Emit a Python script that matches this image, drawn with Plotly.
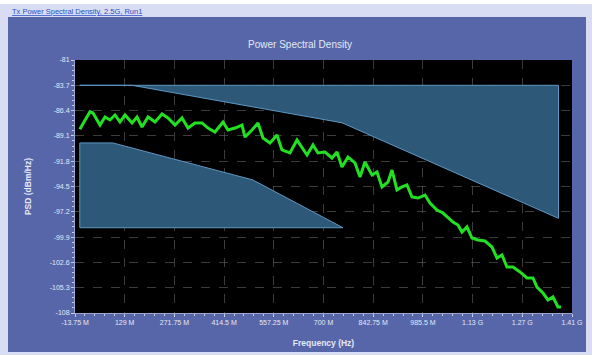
import plotly.graph_objects as go

# ---------------- data ----------------
freq_mhz = [0, 29.3, 37.9, 58, 72.4, 86.8, 101.1, 115.5, 129.9, 150, 164.3, 178.7, 195.9, 216,
            236.1, 253.3, 273.5, 293.6, 310.8, 330.9, 351, 368.2, 388.3, 411.3, 425.7, 445.8,
            465.9, 474.5, 494.6, 511.8, 526.2, 546.3, 566.4, 580.7, 603.7, 623.8,
            652.6, 669.8, 684.1, 704.3, 724.3, 738.7, 753.1, 770.3, 790.4, 804.8, 819.1,
            839.2, 853.6, 867.9, 885.2, 896.7, 911, 925.4, 939.7, 954.1, 971.3, 991.5,
            1005.8, 1025.9, 1043.2, 1057.5, 1071.9, 1086.2, 1097.7, 1112.1, 1126.4, 1143.7,
            1163.8, 1183.9, 1198.2, 1212.6, 1226.9, 1244.2, 1264.3, 1284.4, 1301.6, 1313.1,
            1330.3, 1344.7, 1359, 1373.4, 1382]
psd_dbm_hz = [-88.40, -86.52, -86.66, -87.94, -87.08, -87.40, -86.87, -87.62, -86.87, -87.72,
              -87.08, -88.15, -87.08, -87.62, -86.76, -87.19, -87.94, -87.19, -88.26, -87.72,
              -87.72, -88.26, -88.68, -87.62, -88.47, -88.26, -87.94, -89.22, -88.47, -87.72,
              -89.32, -89.86, -89.00, -90.60, -90.92, -89.54,
              -91.14, -90.07, -90.92, -90.82, -91.46, -90.82, -92.42, -91.35, -91.99, -93.49,
              -91.89, -93.27, -92.95, -94.55, -94.02, -92.74, -94.87, -94.55, -94.34, -95.62,
              -95.73, -95.41, -96.26, -97.01, -97.33, -97.76, -98.29, -98.61, -99.36, -98.82,
              -100.00, -100.21, -100.32, -100.96, -102.13, -101.81, -103.09, -103.09, -103.62,
              -104.26, -104.26, -105.23, -105.87, -106.61, -106.29, -107.36, -107.36]

upper_mask_x = [0, 1375, 1375, 753, 150, 0]
upper_mask_y = [-83.7, -83.7, -97.9, -87.7, -83.7, -83.7]
lower_mask_x = [0, 95, 497, 756, 0, 0]
lower_mask_y = [-89.85, -89.85, -93.8, -98.9, -98.9, -89.85]

x_tickvals = [-13.75, 129, 271.75, 414.5, 557.25, 700, 842.75, 985.5, 1128.25, 1271, 1413.75]
x_ticktext = ["-13.75 M", "129 M", "271.75 M", "414.5 M", "557.25 M", "700 M", "842.75 M",
              "985.5 M", "1.13 G", "1.27 G", "1.41 G"]
y_tickvals = [-81, -83.7, -86.4, -89.1, -91.8, -94.5, -97.2, -99.9, -102.6, -105.3, -108]
y_ticktext = ["-81", "-83.7", "-86.4", "-89.1", "-91.8", "-94.5", "-97.2", "-99.9",
              "-102.6", "-105.3", "-108"]

# ---------------- layout geometry ----------------
W, H = 600, 363
L, R, T, B = 75, 28, 60, 50
PW, PH = W - L - R, H - T - B


def px(x):
    return (x - L) / PW


def py(y):
    return (H - B - y) / PH


BLUE = "#5766a9"
LAV = "#d8ddf3"
MASK_FILL = "#2d5877"
MASK_LINE = "#5d98c4"
TXT = "#e4e8f6"

fig = go.Figure()

fig.add_trace(go.Scatter(x=upper_mask_x, y=upper_mask_y, mode="lines", fill="toself",
                         fillcolor=MASK_FILL, line=dict(color=MASK_LINE, width=1),
                         hoverinfo="skip", showlegend=False))
fig.add_trace(go.Scatter(x=lower_mask_x, y=lower_mask_y, mode="lines", fill="toself",
                         fillcolor=MASK_FILL, line=dict(color=MASK_LINE, width=1),
                         hoverinfo="skip", showlegend=False))
fig.add_trace(go.Scatter(x=freq_mhz, y=psd_dbm_hz, mode="lines",
                         line=dict(color="#22e022", width=3), showlegend=False))

shapes = []


def rect(x0, y0, x1, y1, color):
    shapes.append(dict(type="rect", xref="paper", yref="paper", layer="below",
                       x0=px(x0), x1=px(x1), y0=py(y1), y1=py(y0),
                       fillcolor=color, line=dict(width=0)))


# outer frame
rect(0, 4, 592, 17, LAV)
rect(0, 4, 8, 355, LAV)
rect(586, 4, 592, 355, LAV)
rect(0, 352, 592, 355, LAV)
rect(0, 0, 600, 4, "white")
rect(592, 0, 600, 363, "white")
rect(0, 355, 600, 363, "white")

fig.update_layout(
    width=W, height=H,
    margin=dict(l=L, r=R, t=T, b=B),
    paper_bgcolor=BLUE, plot_bgcolor="black",
    shapes=shapes,
    font=dict(family="Liberation Sans, Arial, sans-serif", color=TXT, size=7),
    title=dict(text="Power Spectral Density", x=px(323.5), xanchor="center",
               y=1 - 44 / H, yanchor="middle",
               font=dict(size=10, color=TXT)),
    annotations=[dict(text="<u>Tx Power Spectral Density, 2.5G, Run1</u>", xref="paper",
                      yref="paper", x=px(10), y=py(11), xanchor="left", yanchor="middle",
                      showarrow=False, font=dict(size=7.5, color="#2b4fc9"))],
    xaxis=dict(range=[-13.75, 1413.75], tickvals=x_tickvals, ticktext=x_ticktext,
               showgrid=True, gridcolor="rgba(110,110,110,0.55)", griddash="dash",
               gridwidth=1, zeroline=False, showline=True, linecolor="#9aa4cc",
               ticks="outside", ticklen=3, tickcolor="#c8cee8",
               minor=dict(dtick=142.75 / 5, tick0=-13.75, ticks="outside", ticklen=2,
                          tickcolor="#c8cee8", showgrid=False),
               tickfont=dict(size=7, color=TXT),
               title=dict(text="<b>Frequency (Hz)</b>", font=dict(size=8.5, color=TXT),
                          standoff=14)),
    yaxis=dict(range=[-108, -81], tickvals=y_tickvals, ticktext=y_ticktext,
               showgrid=True, gridcolor="rgba(110,110,110,0.55)", griddash="dash",
               gridwidth=1, zeroline=False, showline=True, linecolor="#9aa4cc",
               ticks="outside", ticklen=3, tickcolor="#c8cee8",
               minor=dict(dtick=2.7 / 5, tick0=-108, ticks="outside", ticklen=2,
                          tickcolor="#c8cee8", showgrid=False),
               tickfont=dict(size=7, color=TXT),
               title=dict(text="<b>PSD (dBm/Hz)</b>", font=dict(size=8.5, color=TXT),
                          standoff=16)),
)

fig.write_html("out.html", config={"displayModeBar": False},
               post_script="document.body.style.margin='0';document.body.style.overflow='hidden';")
